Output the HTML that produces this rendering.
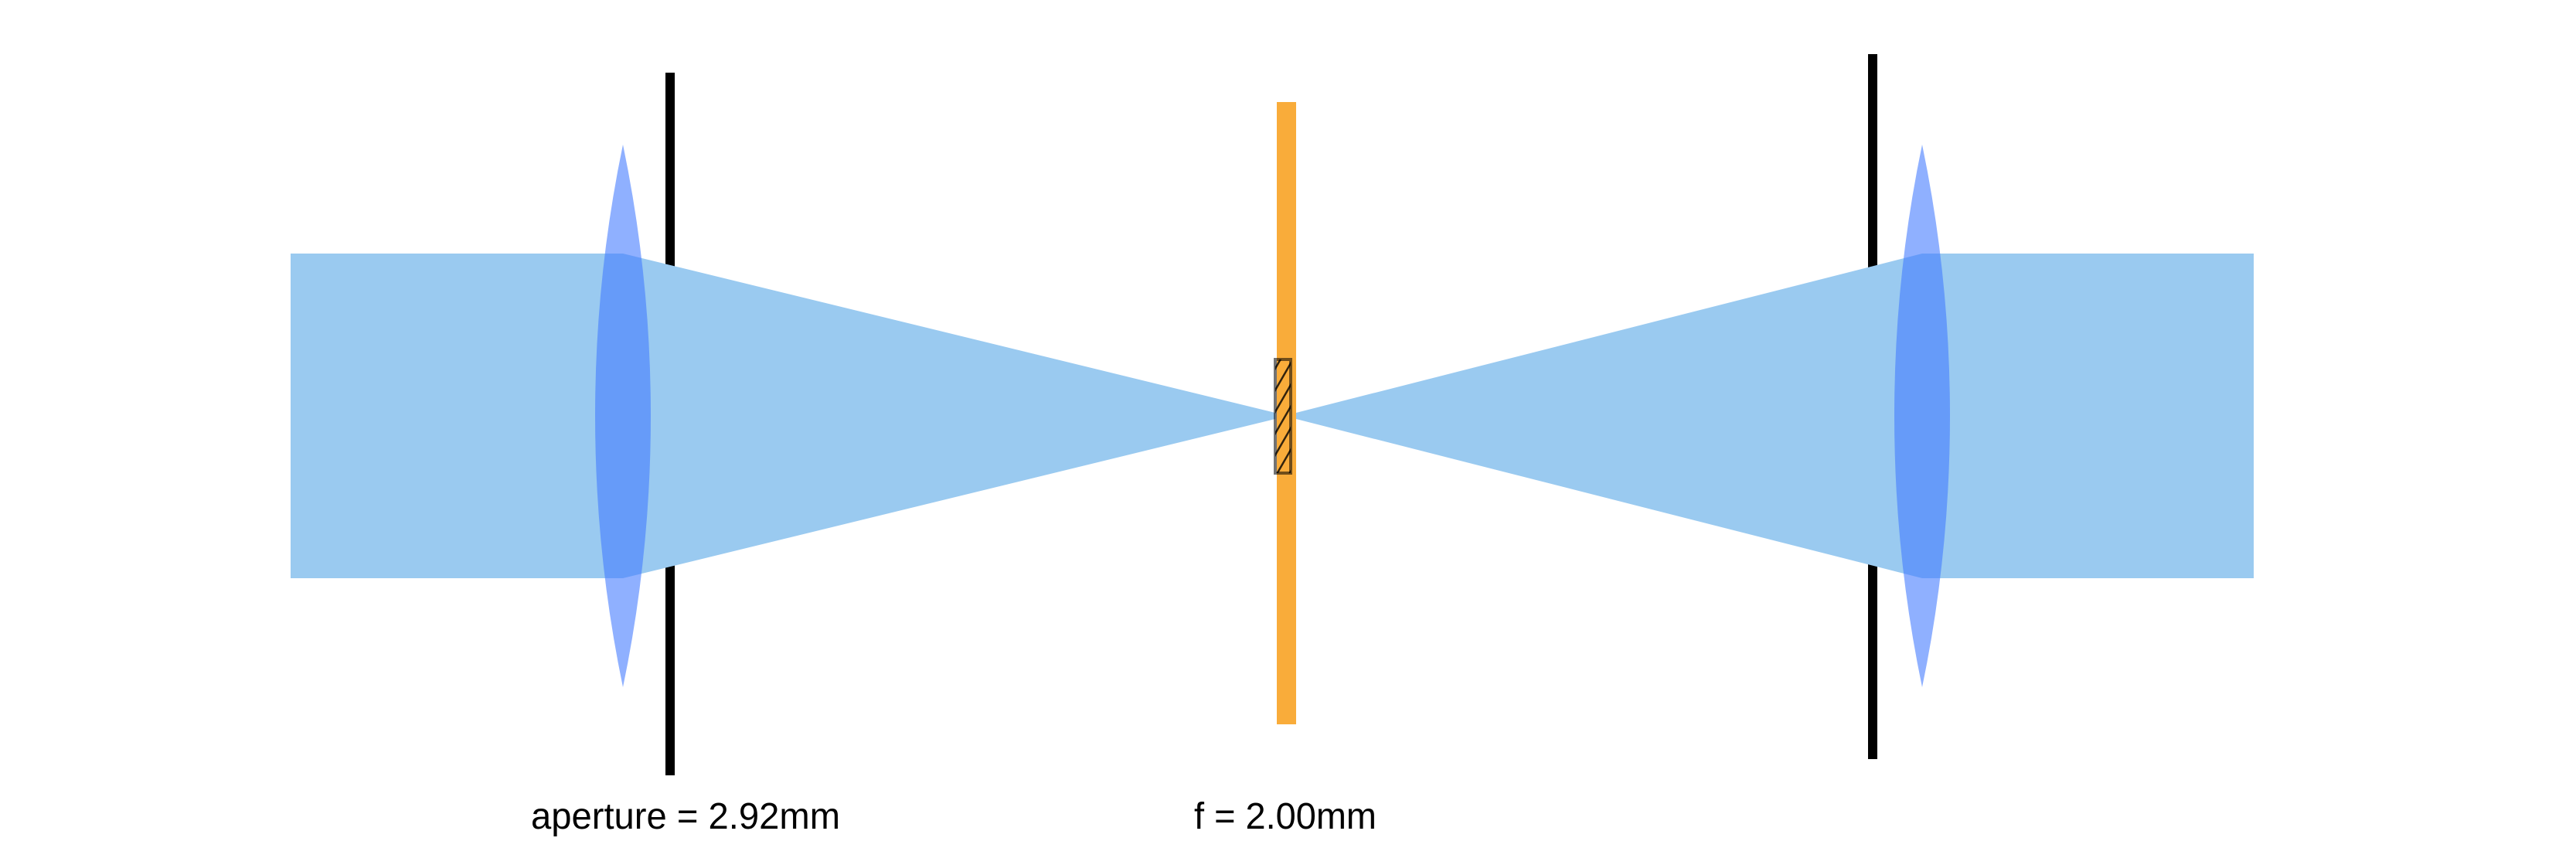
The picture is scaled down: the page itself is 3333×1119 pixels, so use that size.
<!DOCTYPE html>
<html><head><meta charset="utf-8"><style>
html,body{margin:0;padding:0;background:#fff;}
svg{display:block;}
</style></head><body>
<svg width="3333" height="1119" viewBox="0 0 3333 1119" xmlns="http://www.w3.org/2000/svg">
<defs>
<pattern id="hatch" patternUnits="userSpaceOnUse" width="14" height="14" patternTransform="rotate(30)">
<line x1="0" y1="0" x2="0" y2="14" stroke="rgba(0,0,0,0.8)" stroke-width="5"/>
</pattern>
</defs>
<rect x="861" y="94" width="12" height="909" fill="#000"/>
<rect x="2417" y="70" width="12" height="912" fill="#000"/>
<path d="M376 328 L806 328 L1650 534 L1650 542 L806 748 L376 748 Z" fill="#9acaf0"/>
<path d="M2916 328 L2487 328 L1677 534 L1677 542 L2487 748 L2916 748 Z" fill="#9acaf0"/>
<path d="M806 187 Q770 360 770 538 Q770 716 806 889 Q842 716 842 538 Q842 360 806 187 Z" fill="rgb(68,123,255)" fill-opacity="0.6"/>
<path d="M2487 187 Q2451 360 2451 538 Q2451 716 2487 889 Q2523 716 2523 538 Q2523 360 2487 187 Z" fill="rgb(68,123,255)" fill-opacity="0.6"/>
<rect x="1652" y="132" width="25" height="805" fill="#f9ac3a"/>
<rect x="1650" y="465" width="20" height="147" fill="url(#hatch)" stroke="rgba(0,0,0,0.55)" stroke-width="4"/>
<text x="687" y="1072" font-family="Liberation Sans, sans-serif" font-size="48" fill="#000" textLength="400" lengthAdjust="spacingAndGlyphs">aperture = 2.92mm</text>
<text x="1545" y="1072" font-family="Liberation Sans, sans-serif" font-size="48" fill="#000" textLength="236" lengthAdjust="spacingAndGlyphs">f = 2.00mm</text>
</svg>
</body></html>
